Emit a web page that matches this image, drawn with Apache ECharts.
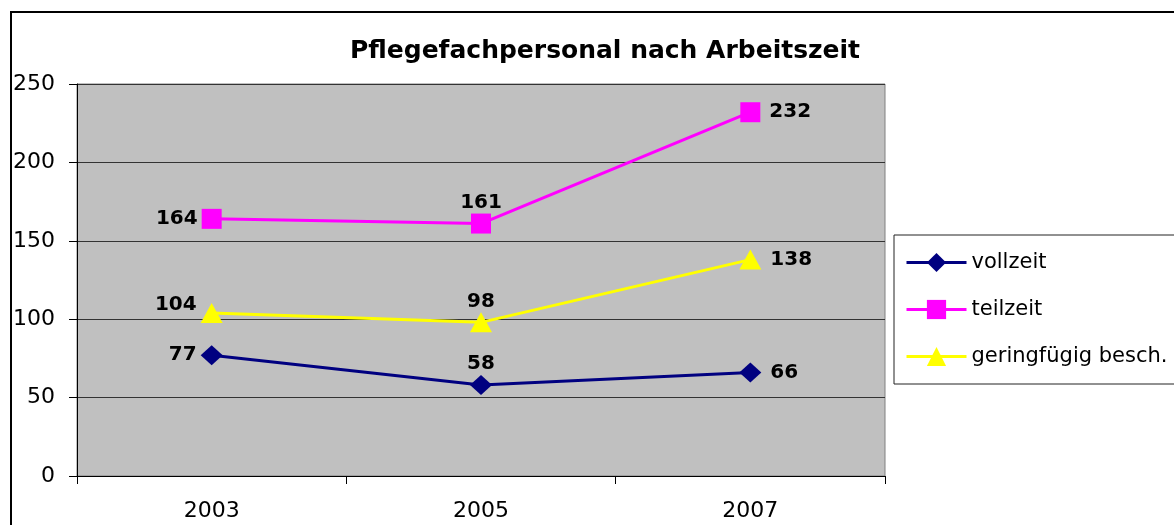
<!DOCTYPE html>
<html>
<head>
<meta charset="utf-8">
<script src="https://cdn.jsdelivr.net/npm/echarts@6/dist/echarts.min.js"></script>
<style>
html,body{margin:0;padding:0;background:#fff;}
#c{width:1174px;height:525px;}
</style>
</head>
<body>
<div id="c"></div>
<script>
const titleText = 'Pflegefachpersonal nach Arbeitszeit';
const categories = ['2003', '2005', '2007'];
const seriesNames = ['vollzeit', 'teilzeit', 'geringfügig besch.'];
const vollzeit = [77, 58, 66];
const teilzeit = [164, 161, 232];
const geringfuegig = [104, 98, 138];
const yTicks = [0, 50, 100, 150, 200, 250];

const FONT = 'DejaVu Sans';
const chart = echarts.init(document.getElementById('c'), null, {renderer: 'canvas'});

function labelFor(i, raise) {
  if (i === 0) return {position: 'left', distance: 4, offset: [0, raise ? -8 : 0]};
  if (i === 1) return {position: 'top', distance: 1};
  return {position: 'right', distance: 9};
}

function makeSeries(name, values, color, symbol, size, raiseFirst) {
  return {
    name: name,
    type: 'line',
    data: values.map((v, i) => ({value: v, label: labelFor(i, raiseFirst)})),
    symbol: symbol,
    symbolSize: size,
    showAllSymbol: true,
    lineStyle: {color: color, width: 3},
    itemStyle: {color: color, borderWidth: 0},
    label: {
      show: true,
      fontFamily: FONT,
      fontWeight: 'bold',
      fontSize: 20,
      color: '#000'
    },
    emphasis: {disabled: true},
    animation: false,
    z: 3
  };
}

const option = {
  animation: false,
  backgroundColor: '#fff',
  title: {
    text: titleText,
    left: 600,
    top: 34,
    textAlign: 'center',
    textStyle: {fontFamily: FONT, fontWeight: 'bold', fontSize: 25, color: '#000'}
  },
  grid: {
    left: 77, top: 84, right: 289, bottom: 49,
    show: true,
    backgroundColor: '#C0C0C0',
    borderColor: '#808080',
    borderWidth: 1,
    containLabel: false
  },
  legend: {
    orient: 'vertical',
    left: 894,
    top: 235,
    padding: [17, 14, 17, 11],
    itemGap: 26,
    itemWidth: 60,
    itemHeight: 24,
    lineStyle: {width: 3},
    borderColor: '#222',
    borderWidth: 1,
    backgroundColor: '#fff',
    textStyle: {fontFamily: FONT, fontSize: 21, color: '#000'},
    data: seriesNames
  },
  xAxis: {
    type: 'category',
    data: categories,
    boundaryGap: true,
    axisLine: {lineStyle: {color: '#000', width: 1}},
    axisTick: {show: true, length: 8, lineStyle: {color: '#000'}},
    axisLabel: {fontFamily: FONT, fontSize: 22, color: '#000', margin: 24},
    splitLine: {show: false}
  },
  yAxis: {
    type: 'value',
    min: yTicks[0],
    max: yTicks[yTicks.length - 1],
    interval: yTicks[1] - yTicks[0],
    axisLine: {show: true, lineStyle: {color: '#000', width: 1}},
    axisTick: {show: true, length: 8, lineStyle: {color: '#000'}},
    axisLabel: {fontFamily: FONT, fontSize: 22, color: '#000', margin: 22},
    splitLine: {show: true, lineStyle: {color: '#333', width: 1}}
  },
  series: [
    makeSeries(seriesNames[0], vollzeit, '#000080', 'diamond', [22, 20], false),
    makeSeries(seriesNames[1], teilzeit, '#FF00FF', 'rect', [20, 20], false),
    makeSeries(seriesNames[2], geringfuegig, '#FFFF00', 'triangle', [22, 20], true)
  ],
  graphic: [{
    type: 'rect',
    shape: {x: 11, y: 12, width: 1400, height: 800},
    style: {fill: 'none', stroke: '#000', lineWidth: 2},
    z: 100,
    silent: true
  }]
};
chart.setOption(option);
</script>
</body>
</html>
